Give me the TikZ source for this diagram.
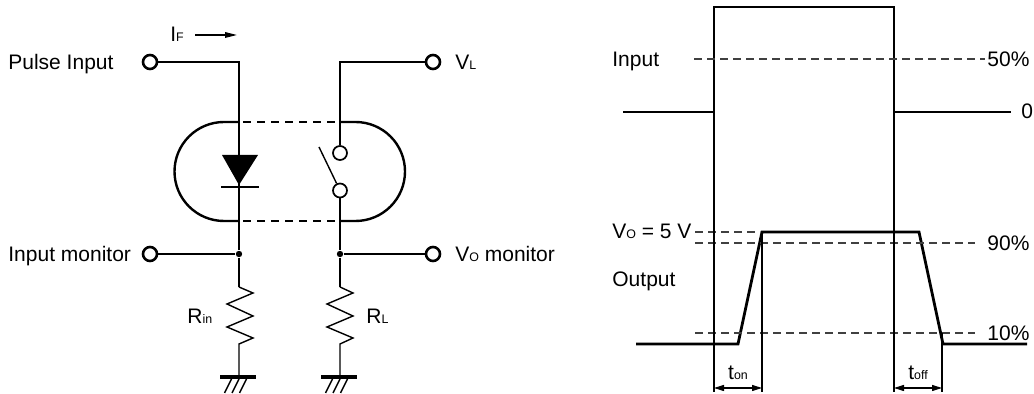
\documentclass[tikz,border=0pt]{standalone}
\usepackage{fontspec}
\setmainfont{Liberation Sans}
\usetikzlibrary{arrows.meta, positioning}

\newcommand{\lsub}[1]{{\fontsize{6.2}{7}\selectfont #1}}

\begin{document}
\begin{tikzpicture}[x=0.5pt, y=-0.5pt, font=\fontsize{10.5}{12}\selectfont,
   term/.style={circle, draw, line width=1.3pt, minimum size=7pt, inner sep=0pt},
   cont/.style={circle, draw, line width=0.85pt, minimum size=7pt, inner sep=0pt},
   junc/.style={circle, fill, minimum size=3.2pt, inner sep=0pt},
   txt/.style={anchor=base west, inner sep=0pt},
   ctxt/.style={anchor=base, inner sep=0pt},
   wire/.style={line width=0.7pt},
   case/.style={line width=1.2pt},
   casedash/.style={line width=1.2pt, dash pattern=on 4pt off 3pt, dash phase=5pt},
   wave/.style={line width=1.4pt, line join=miter},
   guide/.style={line width=0.55pt},
   level/.style={line width=0.55pt, black!75, dash pattern=on 4pt off 2.5pt},
   tarrow/.style={line width=0.55pt, {Triangle[length=5pt,width=3pt]}-{Triangle[length=5pt,width=3pt]}}]

   \useasboundingbox (0,0) rectangle (1034,394);

   % Nodes
      \node[term] (pulse) at (150,62)    {};
      \node[term] (vl)    at (433,62)    {};
      \node[term] (inmon) at (150,254)   {};
      \node[term] (vomon) at (433,254)   {};
      \node[cont] (swa)   at (340,153)   {};
      \node[cont] (swb)   at (340,190.5) {};
      \node[junc] (jin)   at (239,254)   {};
      \node[junc] (jout)  at (340,254)   {};

      \coordinate (rintop) at (239,287);
      \coordinate (rinbot) at (239,344);
      \coordinate (rltop)  at (340,287);
      \coordinate (rlbot)  at (340,344);
      \coordinate (gin)    at (239,377);
      \coordinate (gl)     at (340,377);
      \coordinate (ifa)    at (195,35);
      \coordinate (ifb)    at (237,35);
      \coordinate (blade)  at (319,147);

      \node[txt]  (lpulse) at (8,70)    {Pulse Input};
      \node[txt]  (lif)    at (170,42)  {I\lsub{F}};
      \node[txt]  (lvl)    at (455,70)  {V\lsub{L}};
      \node[txt]  (linmon) at (8,262)   {Input monitor};
      \node[txt]  (lvomon) at (455,262) {V\lsub{O} monitor};
      \node[txt]  (lrin)   at (187,324) {R\lsub{in}};
      \node[txt]  (lrl)    at (366,324) {R\lsub{L}};

      \node[txt]  (lin)    at (612,67)  {Input};
      \node[txt]  (l50)    at (987,67)  {50\%};
      \node[txt]  (lzero)  at (1021,119) {0};
      \node[txt]  (lvo)    at (612,239) {V\lsub{O} = 5 V};
      \node[txt]  (l90)    at (987,251) {90\%};
      \node[txt]  (lout)   at (612,287) {Output};
      \node[txt]  (l10)    at (987,341) {10\%};
      \node[ctxt] (lton)   at (738,380) {t\lsub{on}};
      \node[ctxt] (ltoff)  at (918,380) {t\lsub{off}};

      \coordinate (tona)  at (714,388);
      \coordinate (tonb)  at (762,388);
      \coordinate (toffa) at (894,388);
      \coordinate (toffb) at (942,388);

   % Circuit
      \draw[wire] (pulse) -| (jin);
      \draw[wire] (jin) -- (rintop);
      \draw[wire] (inmon) -- (jin);
      \draw[wire, -{Triangle[length=6pt,width=2.8pt]}] (ifa) -- (ifb);
      \fill (222,155) -- (258,155) -- (239,185) -- cycle;
      \draw[line width=1.4pt] (221,187) -- (259,187);

      \draw[wire] (vl) -| (swa);
      \draw[wire] (swb) -- (jout);
      \draw[wire] (jout) -- (rltop);
      \draw[wire] (jout) -- (vomon);
      \draw[wire] (blade) -- (swb);

      \draw[case] (239,122) -- (224,122) arc[start angle=90, end angle=270, radius=24.75pt] -- (239,221);
      \draw[case] (340,122) -- (355.5,122) arc[start angle=90, end angle=-90, radius=24.75pt] -- (340,221);
      \draw[casedash] (239,122) -- (340,122);
      \draw[casedash] (239,221) -- (340,221);

      \draw[wire] (rintop) -- ++(14,6) -- ++(-26,11) -- ++(26,12) -- ++(-26,11) -- ++(26,11) -- (rinbot) -- (gin);
      \draw[wire] (rltop) -- ++(13,6) -- ++(-26,11) -- ++(26,12) -- ++(-26,11) -- ++(26,11) -- (rlbot) -- (gl);
      \foreach \g in {gin, gl} {
         \draw[line width=1.6pt] ([xshift=-9.5pt]\g) -- ([xshift=8.5pt]\g);
         \foreach \dx in {-7.5, 0, 7.5}
            \draw[line width=0.7pt] ([xshift=\dx*0.5pt, yshift=-1pt]\g) -- ++(-7,14);
      }

   % Timing
      \draw[wave] (623,112) -- (714,112) -- (714,7) -- (894,7) -- (894,112) -- (1011,112);
      \draw[wave] (636,344) -- (738,344) -- (762,232) -- (919,232) -- (943,344) -- (1027,344);

      \draw[level] (694,59)  -- (985,59);
      \draw[level] (695,232) -- (760,232);
      \draw[level] (695,243) -- (975,243);
      \draw[level] (695,333) -- (975,333);

      \draw[guide] (714,112) -- (714,392);
      \draw[guide] (894,112) -- (894,392);
      \draw[guide] (762,232) -- (762,392);
      \draw[guide] (942,333) -- (942,392);

      \draw[tarrow] (tona) -- (tonb);
      \draw[tarrow] (toffa) -- (toffb);
\end{tikzpicture}
\end{document}
